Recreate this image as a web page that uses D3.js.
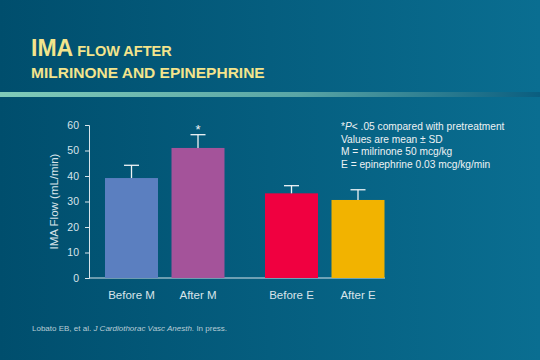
<!DOCTYPE html>
<html>
<head>
<meta charset="utf-8">
<script src="https://cdn.jsdelivr.net/npm/d3@7"></script>
<style>
  body { margin: 0; padding: 0; overflow: hidden; }
  svg { display: block; font-family: "Liberation Sans", Arial, sans-serif; }
</style>
</head>
<body>
<div id="chart"></div>
<script>
const groups = ["Before M", "After M", "Before E", "After E"];
const means = [39.2, 51, 33.2, 30.6];
const sds = [5, 5.2, 3, 4];
const barColors = ["#5b7fc0", "#a4539a", "#f00040", "#f2b300"];
const significant = [false, true, false, false];
const yTicks = [0, 10, 20, 30, 40, 50, 60];
const notes = [
  ["*", "P", "< .05 compared with pretreatment"],
  ["Values are mean ± SD"],
  ["M = milrinone 50 mcg/kg"],
  ["E = epinephrine 0.03 mcg/kg/min"]
];

const width = 540, height = 360;
const svg = d3.select("#chart").append("svg")
  .attr("width", width).attr("height", height);

const defs = svg.append("defs");
const bg = defs.append("linearGradient").attr("id", "bg");
bg.append("stop").attr("offset", "0%").attr("stop-color", "#004e6d");
bg.append("stop").attr("offset", "100%").attr("stop-color", "#0a6e91");
const band = defs.append("linearGradient").attr("id", "band");
band.append("stop").attr("offset", "0%").attr("stop-color", "#80cbb9");
band.append("stop").attr("offset", "55%").attr("stop-color", "#5aa6a6");
band.append("stop").attr("offset", "100%").attr("stop-color", "#0a5e80");

svg.append("rect").attr("width", width).attr("height", height).attr("fill", "url(#bg)");
svg.append("rect").attr("x", 0).attr("y", 92).attr("width", width).attr("height", 5).attr("fill", "url(#band)");

// title
const title = svg.append("text").attr("x", 31).attr("y", 56).attr("fill", "#f3e48c").attr("font-weight", "bold");
title.append("tspan").attr("font-size", 23).text("IMA");
title.append("tspan").attr("font-size", 14.5).attr("dx", 4).text("FLOW AFTER");
svg.append("text").attr("x", 31).attr("y", 78).attr("fill", "#f3e48c")
  .attr("font-weight", "bold").attr("font-size", 15.5).text("MILRINONE AND EPINEPHRINE");

// scales
const xPos = {
  "Before M": 105, "After M": 171.5, "Before E": 265, "After E": 331.5
};
const barW = 53;
const y = d3.scaleLinear().domain([0, 60]).range([278, 125]);

const axisColor = "#d8e4ea";
const yAxis = svg.append("g").attr("transform", "translate(89,0)")
  .call(d3.axisLeft(y).tickValues(yTicks).tickSize(4).tickPadding(6));
yAxis.select(".domain").attr("stroke", axisColor);
yAxis.selectAll(".tick line").attr("stroke", axisColor);
yAxis.selectAll(".tick text").attr("fill", axisColor).attr("font-size", 10.5)
  .attr("font-family", "Liberation Sans, Arial, sans-serif");

svg.append("line").attr("x1", 89).attr("x2", 385).attr("y1", y(0)).attr("y2", y(0))
  .attr("stroke", axisColor);

svg.append("text")
  .attr("transform", "translate(58," + y(30) + ") rotate(-90)")
  .attr("text-anchor", "middle").attr("fill", axisColor).attr("font-size", 11.5)
  .text("IMA Flow (mL/min)");

// bars
groups.forEach((g, i) => {
  const x0 = xPos[g];
  const cx = x0 + barW / 2;
  svg.append("rect").attr("x", x0).attr("width", barW)
    .attr("y", y(means[i])).attr("height", y(0) - y(means[i]))
    .attr("fill", barColors[i]);
  const top = y(means[i] + sds[i]);
  svg.append("line").attr("x1", cx).attr("x2", cx).attr("y1", y(means[i])).attr("y2", top)
    .attr("stroke", "#f0f4f6").attr("stroke-width", 1.3);
  svg.append("line").attr("x1", cx - 7.5).attr("x2", cx + 7.5).attr("y1", top).attr("y2", top)
    .attr("stroke", "#f0f4f6").attr("stroke-width", 1.3);
  if (significant[i]) {
    svg.append("text").attr("x", cx).attr("y", top - 1).attr("text-anchor", "middle")
      .attr("fill", "#f0f4f6").attr("font-size", 13).text("*");
  }
  svg.append("text").attr("x", cx).attr("y", 298.5).attr("text-anchor", "middle")
    .attr("fill", axisColor).attr("font-size", 11.5).text(g);
});

// notes
notes.forEach((n, i) => {
  const t = svg.append("text").attr("x", 341).attr("y", 130 + i * 12.7)
    .attr("fill", "#eef2f4").attr("font-size", 10.2);
  if (n.length === 3) {
    t.append("tspan").text(n[0]);
    t.append("tspan").attr("font-style", "italic").text(n[1]);
    t.append("tspan").text(n[2]);
  } else {
    t.text(n[0]);
  }
});

// citation
const cite = svg.append("text").attr("x", 32).attr("y", 331).attr("fill", "#b9cdd6").attr("font-size", 8);
cite.append("tspan").text("Lobato EB, et al. ");
cite.append("tspan").attr("font-style", "italic").text("J Cardiothorac Vasc Anesth.");
cite.append("tspan").text(" In press.");
</script>
</body>
</html>
